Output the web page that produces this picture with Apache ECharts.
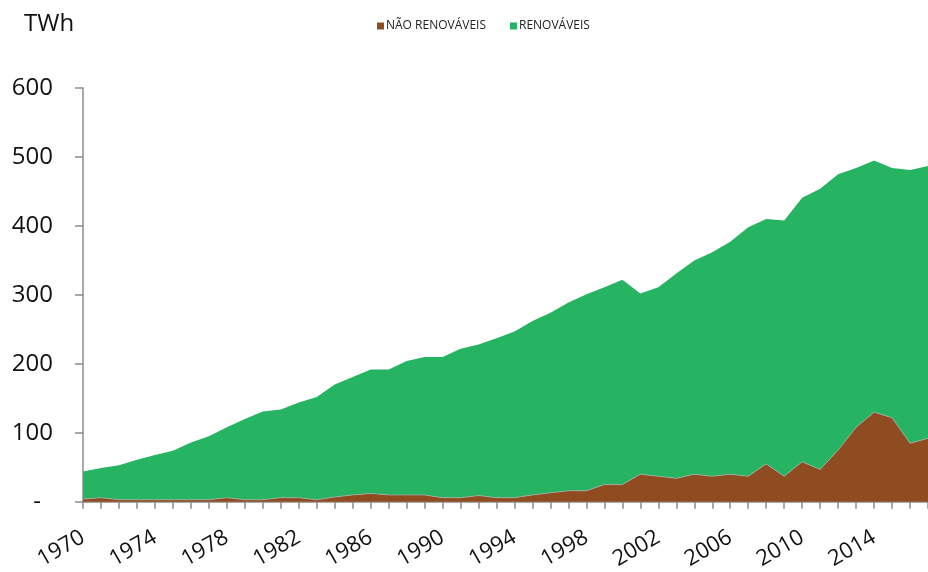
<!DOCTYPE html>
<html>
<head>
<meta charset="utf-8">
<script src="https://cdn.jsdelivr.net/npm/echarts@6/dist/echarts.min.js"></script>
<style>
  html, body { margin: 0; padding: 0; background: #fff; }
  #chart { width: 928px; height: 572px; }
</style>
</head>
<body>
<div id="chart"></div>
<script>
const years = [];
for (let y = 1970; y <= 2017; y++) years.push(String(y));

// TWh
const naoRenovaveis = [
  4, 6, 3, 3, 3, 3, 3, 3, 6, 3,
  3, 6, 6, 3, 7, 10, 12, 10, 10, 10,
  6, 6, 9, 6, 6, 10, 13, 16, 16, 25,
  25, 40, 37, 34, 40, 37, 40, 37, 55, 37,
  58, 47, 75, 108, 130, 122, 85, 92
];
const renovaveis = [
  40, 43, 50, 58, 65, 71, 83, 92, 102, 117,
  128, 128, 138, 149, 163, 171, 180, 182, 194, 200,
  204, 216, 219, 231, 241, 252, 261, 273, 285, 286,
  297, 262, 274, 297, 310, 325, 337, 361, 355, 371,
  383, 407, 400, 376, 365, 362, 396, 395
];

const chart = echarts.init(document.getElementById('chart'));

const option = {
  animation: false,
  title: {
    text: 'TWh',
    left: 24,
    top: 12,
    padding: 0,
    textStyle: { fontFamily: 'Open Sans', fontSize: 24, fontWeight: 'normal', color: '#111' }
  },
  legend: {
    left: 372,
    top: 15,
    icon: 'rect',
    itemWidth: 7,
    itemHeight: 7,
    itemGap: 24,
    textStyle: { fontFamily: 'Open Sans', fontSize: 12, color: '#222', padding: [0, 0, 0, -3] },
    data: ['NÃO RENOVÁVEIS', 'RENOVÁVEIS']
  },
  grid: {
    left: 83,
    right: -9,
    top: 88,
    bottom: 70
  },
  xAxis: {
    type: 'category',
    boundaryGap: false,
    data: years,
    axisLine: { lineStyle: { color: '#8c8c8c', width: 1.5 } },
    axisTick: { interval: 0, length: 7, lineStyle: { color: '#8c8c8c', width: 1.5 } },
    axisLabel: {
      interval: 3,
      rotate: 30,
      margin: 34,
      fontFamily: 'Open Sans',
      fontSize: 22,
      color: '#111'
    }
  },
  yAxis: {
    type: 'value',
    min: 0,
    max: 600,
    interval: 100,
    splitLine: { show: false },
    axisLine: { show: true, lineStyle: { color: '#8c8c8c', width: 1.5 } },
    axisTick: { show: true, length: 8, lineStyle: { color: '#8c8c8c', width: 1.5 } },
    axisLabel: {
      margin: 30,
      fontFamily: 'Open Sans',
      fontSize: 24,
      color: '#111',
      formatter: v => (v === 0 ? '{d|-}' : String(v)),
      rich: {
        d: { fontFamily: 'Open Sans', fontSize: 24, color: '#111', padding: [0, 12, 0, 0] }
      }
    }
  },
  series: [
    {
      name: 'NÃO RENOVÁVEIS',
      type: 'line',
      stack: 'total',
      symbol: 'none',
      data: naoRenovaveis,
      itemStyle: { color: '#8f4c21' },
      lineStyle: { color: '#a8a8a8', width: 0.8 },
      areaStyle: { color: '#8f4c21', opacity: 1 }
    },
    {
      name: 'RENOVÁVEIS',
      type: 'line',
      stack: 'total',
      symbol: 'none',
      data: renovaveis,
      itemStyle: { color: '#27b462' },
      lineStyle: { width: 0 },
      areaStyle: { color: '#27b462', opacity: 1 }
    }
  ]
};

chart.setOption(option);
</script>
</body>
</html>
